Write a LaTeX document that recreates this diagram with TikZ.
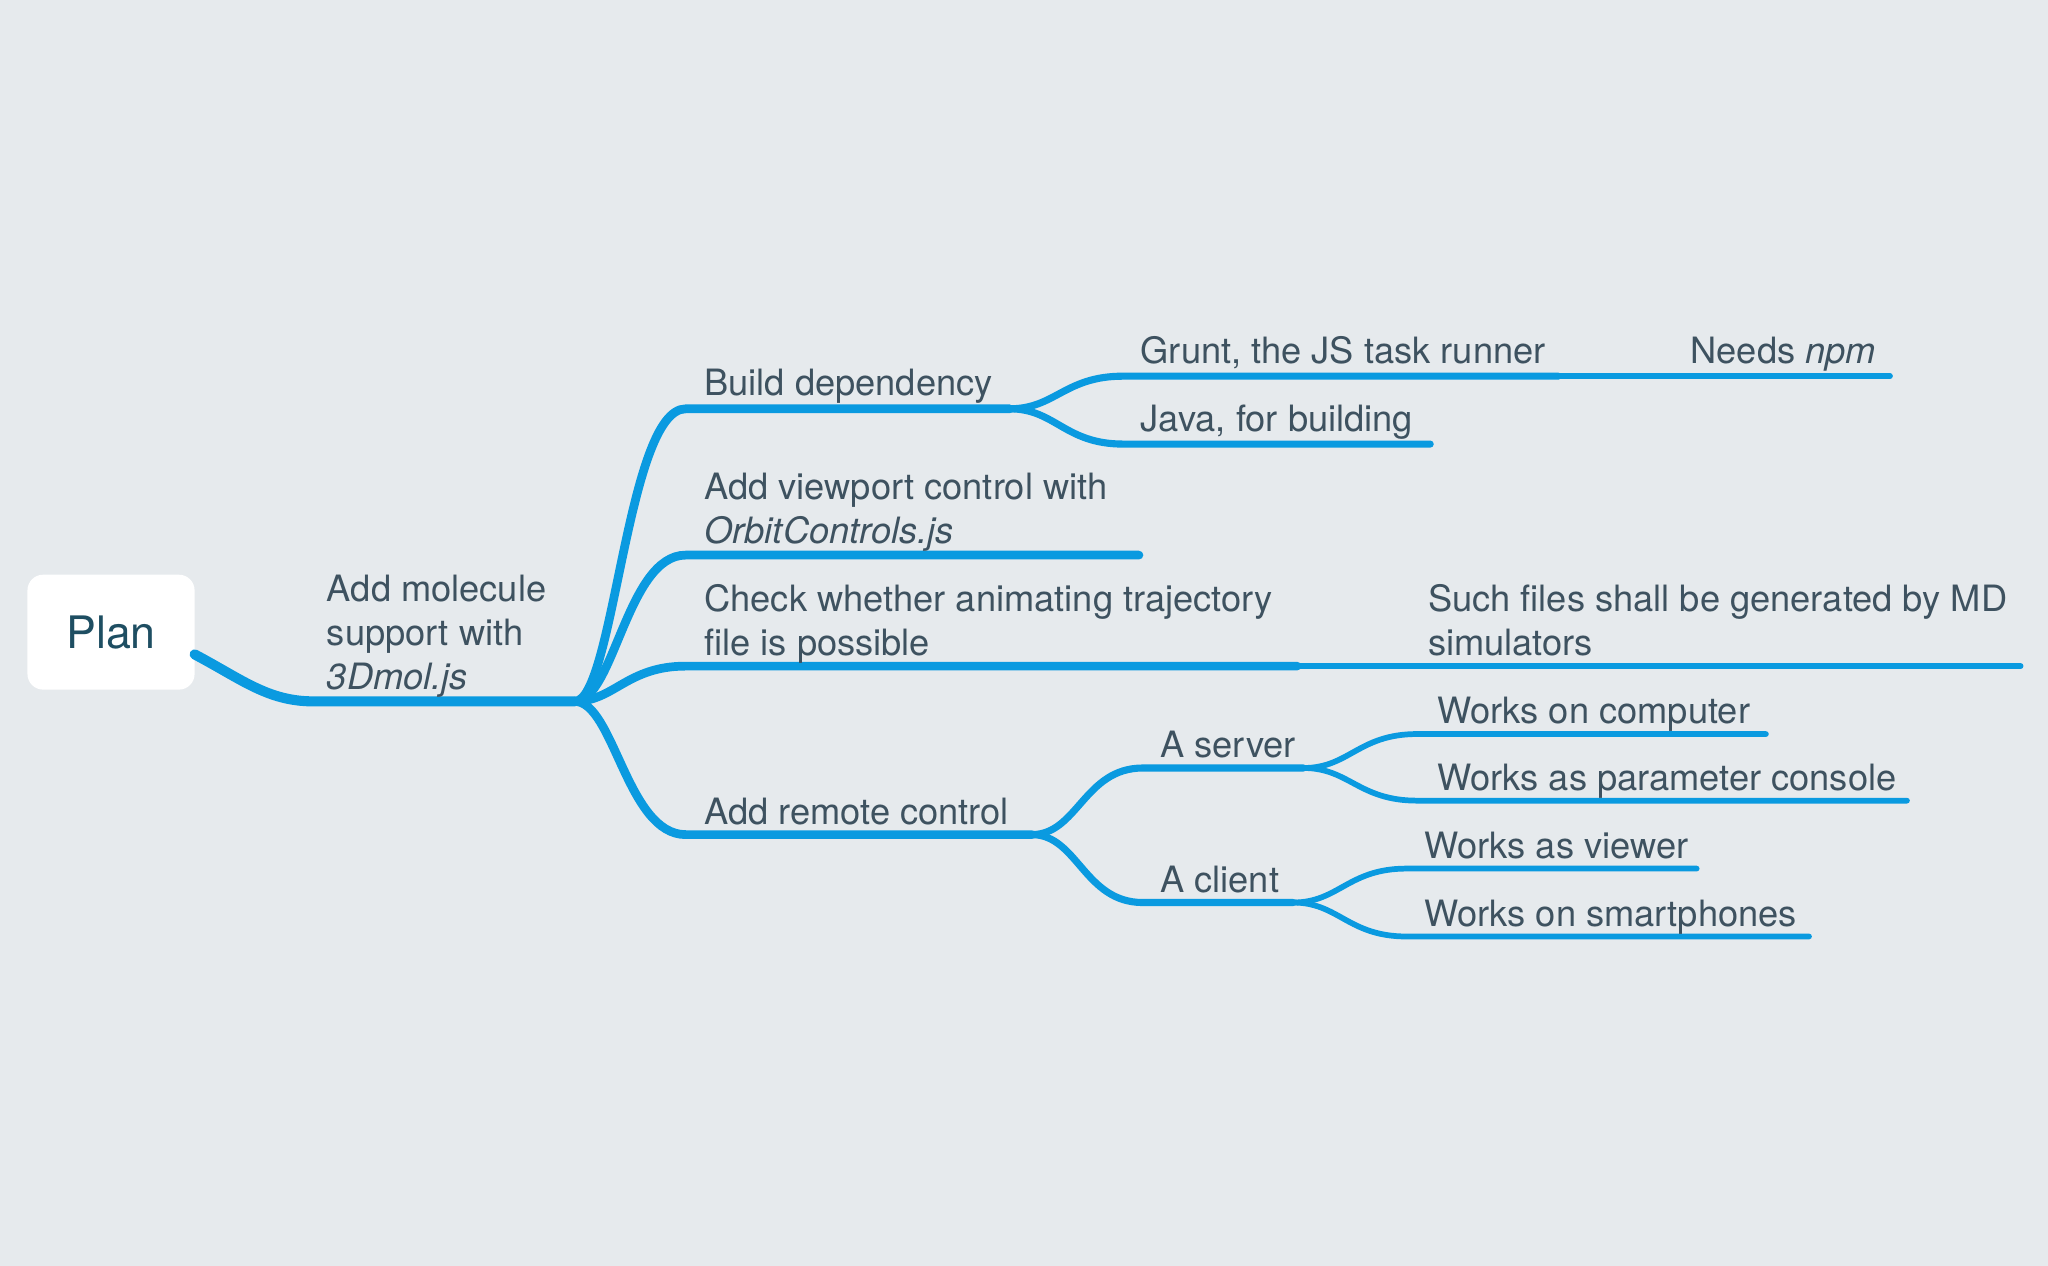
\documentclass[tikz,border=0pt]{standalone}
\usepackage{fontspec}
\setmainfont{TeX Gyre Heros}
\definecolor{bg}{HTML}{E6EAED}
\definecolor{edge}{HTML}{0A9AE0}
\definecolor{txt}{HTML}{3E5260}
\definecolor{plantxt}{HTML}{1E4E62}
\begin{document}
\begin{tikzpicture}[x=0.02cm,y=-0.02cm,
  lbl/.style={anchor=base west, inner sep=0pt, text=txt, align=left,
    font=\fontsize{15.8pt}{19.3pt}\selectfont},
  eA/.style={draw=edge, line width=4.4pt, line cap=round},
  eB/.style={draw=edge, line width=3.8pt, line cap=round},
  eC/.style={draw=edge, line width=3.1pt, line cap=round},
  eD/.style={draw=edge, line width=2.5pt, line cap=round},
  rootbox/.style={fill=white, rounded corners=0.24cm, minimum width=2.56cm,
    minimum height=1.76cm, inner sep=0pt, text=plantxt,
    font=\fontsize{19.5pt}{24pt}\selectfont}
]
\fill[bg] (0,0) rectangle (1568,969);
\useasboundingbox (0,0) rectangle (1568,969);

% root
\node[rootbox] (plan) at (85,484) {Plan};

% junction / line coordinates
\coordinate (p0) at (149,501);
\coordinate (m0) at (240,537);
\coordinate (j1) at (440,537);

\coordinate (b1s) at (525,313); \coordinate (b1e) at (773,313);
\coordinate (b2s) at (525,425); \coordinate (b2e) at (872,425);
\coordinate (b3s) at (525,510); \coordinate (b3e) at (993,510);
\coordinate (b4s) at (525,639); \coordinate (b4e) at (790,639);

\coordinate (c1s) at (860,288); \coordinate (c1e) at (1193,288);
\coordinate (c2s) at (860,340); \coordinate (c2e) at (1095,340);
\coordinate (d1e) at (1447,288);
\coordinate (f1e) at (1547,510);

\coordinate (s1s) at (875,588); \coordinate (s1e) at (998,588);
\coordinate (s2s) at (875,691); \coordinate (s2e) at (990,691);

\coordinate (w1s) at (1085,562); \coordinate (w1e) at (1352,562);
\coordinate (w2s) at (1085,613); \coordinate (w2e) at (1460,613);
\coordinate (w3s) at (1077,665); \coordinate (w3e) at (1299,665);
\coordinate (w4s) at (1077,717); \coordinate (w4e) at (1385,717);

% connectors
\draw[eA] (p0) .. controls (185,520) and (205,537) .. (m0) -- (j1);

\draw[eB] (j1) .. controls +(30,0) and +(-45,0) .. (b1s) -- (b1e);
\draw[eB] (j1) .. controls +(30,0) and +(-45,0) .. (b2s) -- (b2e);
\draw[eB] (j1) .. controls +(30,0) and +(-45,0) .. (b3s) -- (b3e);
\draw[eB] (j1) .. controls +(30,0) and +(-45,0) .. (b4s) -- (b4e);

\draw[eC] (b1e) .. controls +(35,0) and +(-45,0) .. (c1s) -- (c1e);
\draw[eC] (b1e) .. controls +(35,0) and +(-45,0) .. (c2s) -- (c2e);
\draw[eD] (c1e) -- (d1e);
\draw[eD] (b3e) -- (f1e);

\draw[eC] (b4e) .. controls +(35,0) and +(-45,0) .. (s1s) -- (s1e);
\draw[eC] (b4e) .. controls +(35,0) and +(-45,0) .. (s2s) -- (s2e);

\draw[eD] (s1e) .. controls +(35,0) and +(-45,0) .. (w1s) -- (w1e);
\draw[eD] (s1e) .. controls +(35,0) and +(-45,0) .. (w2s) -- (w2e);
\draw[eD] (s2e) .. controls +(35,0) and +(-45,0) .. (w3s) -- (w3e);
\draw[eD] (s2e) .. controls +(35,0) and +(-45,0) .. (w4s) -- (w4e);

% labels (base anchor = baseline of last line)
\node[lbl] (tmol) at (250,528) {Add molecule\\support with\\\textit{3Dmol.js}};
\node[lbl] (tbuild) at (539,303) {Build dependency};
\node[lbl] (tview) at (539,416) {Add viewport control with\\\textit{OrbitControls.js}};
\node[lbl] (tcheck) at (539,502) {Check whether animating trajectory\\file is possible};
\node[lbl] (tremote) at (539,631) {Add remote control};
\node[lbl] (tgrunt) at (873,278) {Grunt, the JS task runner};
\node[lbl] (tjava) at (873,330) {Java, for building};
\node[lbl] (tnpm) at (1294,278) {Needs \textit{npm}};
\node[lbl] (tsuch) at (1093,502) {Such files shall be generated by MD\\simulators};
\node[lbl] (tserver) at (888,580) {A server};
\node[lbl] (tclient) at (888,683) {A client};
\node[lbl] (tcomp) at (1100,554) {Works on computer};
\node[lbl] (tparam) at (1100,605) {Works as parameter console};
\node[lbl] (tviewer) at (1090,657) {Works as viewer};
\node[lbl] (tsmart) at (1090,709) {Works on smartphones};
\end{tikzpicture}
\end{document}
